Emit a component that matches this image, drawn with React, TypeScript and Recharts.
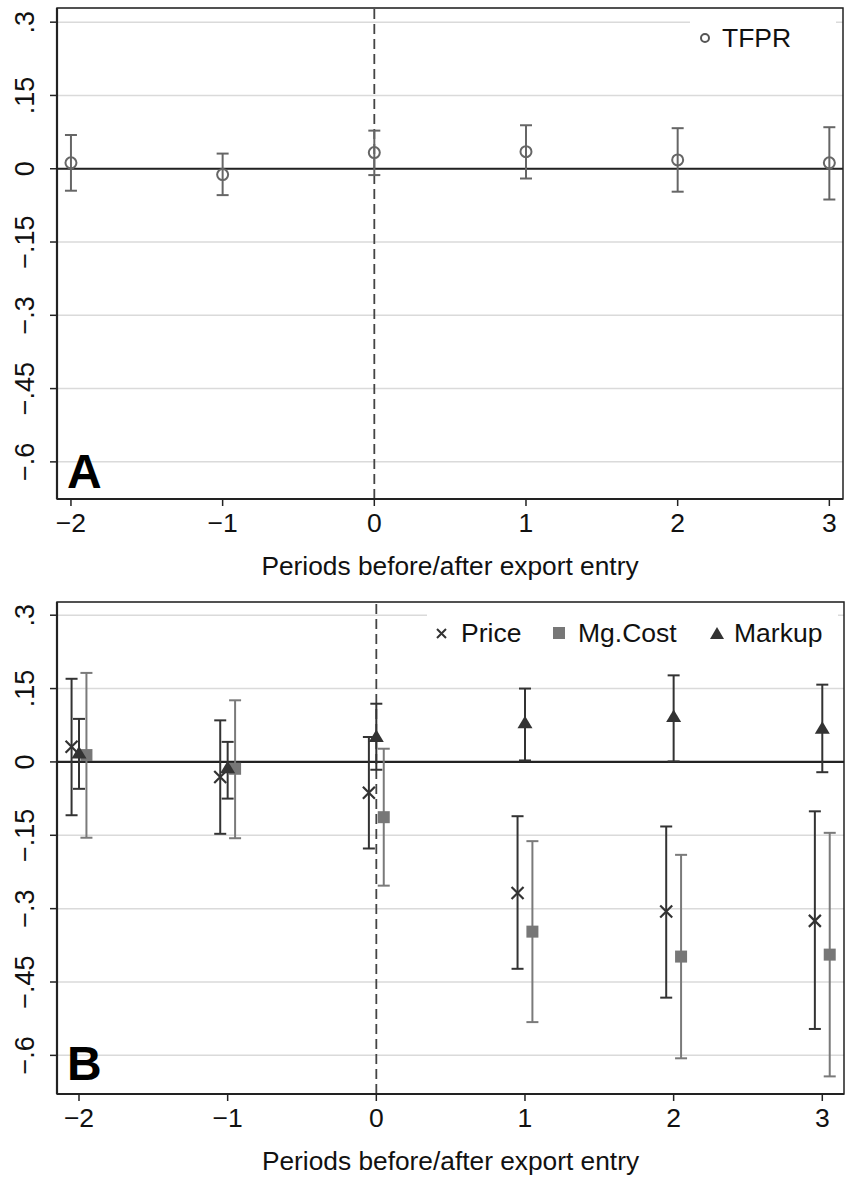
import React from "react";
import {
  ComposedChart,
  Scatter,
  ErrorBar,
  XAxis,
  YAxis,
  CartesianGrid,
  ReferenceLine,
  ReferenceArea,
  Legend,
  Label,
} from "recharts";

const FONT = '"Liberation Sans", Arial, Helvetica, sans-serif';

const periods = [-2, -1, 0, 1, 2, 3];
const xTickLabels = ["\u22122", "\u22121", "0", "1", "2", "3"];
const yTicks = [0.3, 0.15, 0, -0.15, -0.3, -0.45, -0.6];
const yTickLabels = [".3", ".15", "0", "\u2212.15", "\u2212.3", "\u2212.45", "\u2212.6"];
const axisTitle = "Periods before/after export entry";

// panel A: TFPR
const tfprEst = [0.012, -0.012, 0.033, 0.035, 0.018, 0.012];
const tfprLo = [-0.045, -0.054, -0.013, -0.02, -0.047, -0.063];
const tfprHi = [0.069, 0.031, 0.078, 0.089, 0.083, 0.085];

// panel B: price, marginal cost, markup
const priceEst = [0.031, -0.031, -0.063, -0.268, -0.306, -0.325];
const priceLo = [-0.109, -0.147, -0.177, -0.423, -0.482, -0.546];
const priceHi = [0.17, 0.085, 0.051, -0.111, -0.132, -0.101];

const costEst = [0.014, -0.014, -0.113, -0.347, -0.398, -0.394];
const costLo = [-0.155, -0.156, -0.253, -0.532, -0.606, -0.643];
const costHi = [0.182, 0.126, 0.027, -0.162, -0.19, -0.145];

const markupEst = [0.018, -0.012, 0.052, 0.08, 0.093, 0.069];
const markupLo = [-0.055, -0.075, -0.016, 0.003, 0.001, -0.021];
const markupHi = [0.088, 0.041, 0.119, 0.15, 0.177, 0.158];

const xDomainA = [-2.092, 3.09];
const yDomainA = [-0.676, 0.329];
const xDomainB = [-2.148, 3.146];
const yDomainB = [-0.679, 0.327];

const DODGE = 0.05;

const rows = (est: number[], lo: number[], hi: number[], shift: number) =>
  periods.map((p, i) => ({
    x: p + shift,
    y: est[i],
    err: [est[i] - lo[i], hi[i] - est[i]],
  }));

const tfprRows = rows(tfprEst, tfprLo, tfprHi, 0);
const priceRows = rows(priceEst, priceLo, priceHi, -DODGE);
const markupRows = rows(markupEst, markupLo, markupHi, 0);
const costRows = rows(costEst, costLo, costHi, DODGE);

const HollowCircle = (p: any) => (
  <circle cx={p.cx} cy={p.cy} r={5.5} fill="none" stroke="#666" strokeWidth={2} />
);
const Cross = (p: any) => (
  <path
    d={`M${p.cx - 6},${p.cy - 6}L${p.cx + 6},${p.cy + 6}M${p.cx - 6},${p.cy + 6}L${p.cx + 6},${p.cy - 6}`}
    stroke="#333"
    strokeWidth={2.2}
  />
);
const Square = (p: any) => <rect x={p.cx - 6} y={p.cy - 6} width={12} height={12} fill="#777" />;
const Triangle = (p: any) => (
  <path d={`M${p.cx},${p.cy - 7}L${p.cx + 7.5},${p.cy + 5.5}L${p.cx - 7.5},${p.cy + 5.5}Z`} fill="#333" />
);

const YTick = (props: any) => {
  const { x, y, payload } = props;
  const label = yTickLabels[yTicks.indexOf(payload.value)];
  return (
    <text
      x={x}
      y={y}
      transform={`rotate(-90, ${x}, ${y})`}
      textAnchor="middle"
      fontSize={27}
      fontFamily={FONT}
      fill="#111"
    >
      {label}
    </text>
  );
};

const XTick = (props: any) => {
  const { x, y, payload } = props;
  const label = xTickLabels[periods.indexOf(payload.value)];
  return (
    <text x={x} y={y + 26} textAnchor="middle" fontSize={26.5} fontFamily={FONT} fill="#111">
      {label}
    </text>
  );
};

const AxisTitle = (props: any) => {
  const vb = props.viewBox;
  return (
    <text
      x={vb.x + vb.width / 2}
      y={vb.y + 76}
      textAnchor="middle"
      fontSize={26.3}
      fontFamily={FONT}
      fill="#111"
    >
      {axisTitle}
    </text>
  );
};

const LegendA = () => (
  <svg width={146} height={46} style={{ display: "block" }}>
    <circle cx={15} cy={26} r={4} fill="none" stroke="#555" strokeWidth={2} />
    <text x={32} y={35} fontSize={26.5} fontFamily={FONT} fill="#111">
      TFPR
    </text>
  </svg>
);

const LegendB = () => (
  <svg width={411} height={46} style={{ display: "block" }}>
    <path d="M10,21L19,30M10,30L19,21" stroke="#333" strokeWidth={2} />
    <text x={34} y={34} fontSize={26.5} fontFamily={FONT} fill="#111">
      Price
    </text>
    <rect x={126} y={19} width={12} height={12} fill="#777" />
    <text x={151} y={34} fontSize={26.5} fontFamily={FONT} fill="#111">
      Mg.Cost
    </text>
    <path d="M290,19L297,31L283,31Z" fill="#333" />
    <text x={307} y={34} fontSize={26.5} fontFamily={FONT} fill="#111">
      Markup
    </text>
  </svg>
);

const axisLine = { stroke: "#222", strokeWidth: 2.2 };
const tickLine = { stroke: "#222", strokeWidth: 1.5 };

export default function App() {
  return (
    <div
      style={{
        position: "absolute",
        left: 0,
        top: 0,
        width: 851,
        height: 1178,
        background: "#fff",
        fontFamily: FONT,
      }}
    >
      <div style={{ position: "absolute", left: 0, top: 0 }}>
        <ComposedChart width={851} height={580} margin={{ top: 8, right: 8, bottom: 0, left: 0 }}>
          <CartesianGrid horizontal vertical={false} stroke="#dadada" strokeWidth={1.5} />
          <XAxis
            type="number"
            dataKey="x"
            domain={xDomainA}
            ticks={periods}
            interval={0}
            allowDataOverflow
            height={81}
            tickSize={7}
            tickMargin={0}
            tick={XTick}
            axisLine={axisLine}
            tickLine={tickLine}
          >
            <Label content={AxisTitle} />
          </XAxis>
          <YAxis
            type="number"
            dataKey="y"
            domain={yDomainA}
            ticks={yTicks}
            interval={0}
            allowDataOverflow
            width={57}
            tickSize={7}
            tickMargin={16}
            tick={YTick}
            axisLine={axisLine}
            tickLine={tickLine}
          />
          <ReferenceArea
            x1={xDomainA[0]}
            x2={xDomainA[1]}
            y1={yDomainA[0]}
            y2={yDomainA[1]}
            fill="none"
            stroke="#222"
            strokeWidth={1.5}
          />
          <ReferenceLine y={0} stroke="#222" strokeWidth={2.2} />
          <ReferenceLine x={0} stroke="#444" strokeWidth={1.8} strokeDasharray="10 5" />
          <Scatter name="TFPR" data={tfprRows} shape={HollowCircle} isAnimationActive={false}>
            <ErrorBar dataKey="err" direction="y" width={6} stroke="#666" strokeWidth={2} />
          </Scatter>
          <Legend
            verticalAlign="middle"
            align="center"
            layout="horizontal"
            wrapperStyle={{ left: 690, top: 12, width: 146, height: 46, background: "#fff" }}
            content={LegendA}
          />
        </ComposedChart>
      </div>

      <div style={{ position: "absolute", left: 0, top: 580 }}>
        <ComposedChart width={851} height={598} margin={{ top: 22, right: 7, bottom: 0, left: 0 }}>
          <CartesianGrid horizontal vertical={false} stroke="#dadada" strokeWidth={1.5} />
          <XAxis
            type="number"
            dataKey="x"
            domain={xDomainB}
            ticks={periods}
            interval={0}
            allowDataOverflow
            height={84}
            tickSize={7}
            tickMargin={0}
            tick={XTick}
            axisLine={axisLine}
            tickLine={tickLine}
          >
            <Label content={AxisTitle} />
          </XAxis>
          <YAxis
            type="number"
            dataKey="y"
            domain={yDomainB}
            ticks={yTicks}
            interval={0}
            allowDataOverflow
            width={57}
            tickSize={7}
            tickMargin={16}
            tick={YTick}
            axisLine={axisLine}
            tickLine={tickLine}
          />
          <ReferenceArea
            x1={xDomainB[0]}
            x2={xDomainB[1]}
            y1={yDomainB[0]}
            y2={yDomainB[1]}
            fill="none"
            stroke="#222"
            strokeWidth={1.5}
          />
          <ReferenceLine y={0} stroke="#222" strokeWidth={2.2} />
          <ReferenceLine x={0} stroke="#444" strokeWidth={1.8} strokeDasharray="10 5" />
          <Scatter name="Price" data={priceRows} shape={Cross} isAnimationActive={false}>
            <ErrorBar dataKey="err" direction="y" width={6} stroke="#333" strokeWidth={2} />
          </Scatter>
          <Scatter name="Mg.Cost" data={costRows} shape={Square} isAnimationActive={false}>
            <ErrorBar dataKey="err" direction="y" width={6} stroke="#7a7a7a" strokeWidth={2} />
          </Scatter>
          <Scatter name="Markup" data={markupRows} shape={Triangle} isAnimationActive={false}>
            <ErrorBar dataKey="err" direction="y" width={6} stroke="#333" strokeWidth={2} />
          </Scatter>
          <Legend
            verticalAlign="middle"
            align="center"
            layout="horizontal"
            wrapperStyle={{ left: 427, top: 28, width: 411, height: 46, background: "#fff" }}
            content={LegendB}
          />
        </ComposedChart>
      </div>

      <svg
        width={851}
        height={1178}
        style={{ position: "absolute", left: 0, top: 0, pointerEvents: "none" }}
      >
        <text x={67} y={488} fontSize={48} fontWeight="bold" fontFamily={FONT} fill="#000">
          A
        </text>
        <text x={67} y={1080} fontSize={48} fontWeight="bold" fontFamily={FONT} fill="#000">
          B
        </text>
      </svg>
    </div>
  );
}
